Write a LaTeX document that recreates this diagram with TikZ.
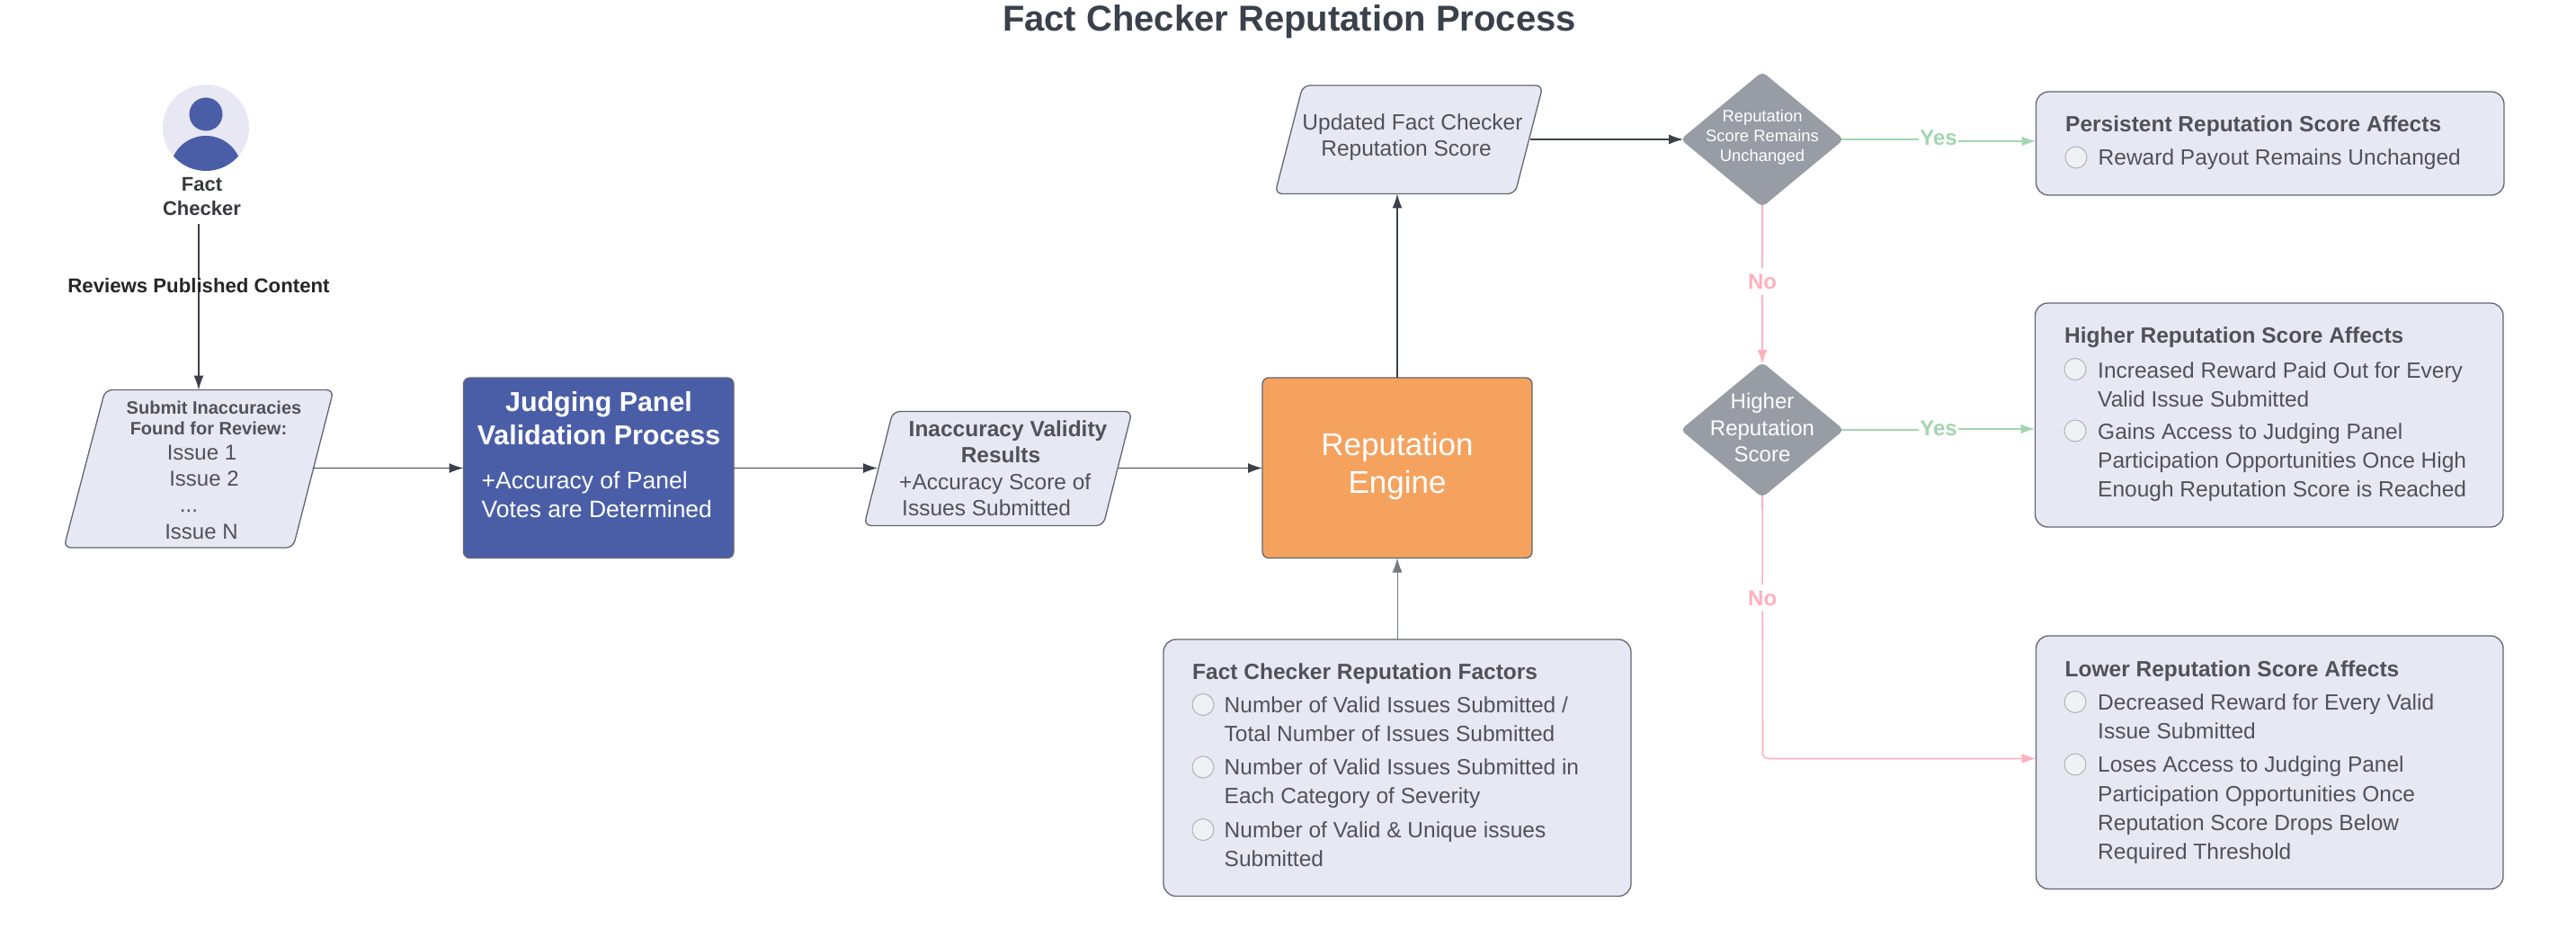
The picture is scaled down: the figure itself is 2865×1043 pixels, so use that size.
\documentclass[tikz,border=0pt]{standalone}
\usepackage{fontspec}
\setmainfont{Liberation Sans}
\usetikzlibrary{arrows.meta,calc}
\definecolor{lav}{HTML}{E8E8F4}
\definecolor{edge}{HTML}{3A414A}
\definecolor{inktext}{HTML}{4F5259}
\definecolor{panel}{HTML}{4A5EA8}
\definecolor{engine}{HTML}{F5A25F}
\definecolor{gatecol}{HTML}{979CA5}
\definecolor{pinkc}{HTML}{FFB0BD}
\definecolor{greenc}{HTML}{A3D5B1}
\definecolor{titlecol}{HTML}{3A414B}
\definecolor{bulfill}{HTML}{F0F1F5}
\newcommand{\fs}[2]{\fontsize{#1}{#2}\selectfont}
\tikzset{
  x=1pt,y=-1pt,
  sz/.style={inner sep=0pt,font=\fs{#1}{#1},text height=0.72*#1 pt,text depth=0pt},
  szb/.style={inner sep=0pt,font=\fs{#1}{#1}\bfseries,text height=0.72*#1 pt,text depth=0pt},
  shapeedge/.style={draw=edge!80,line width=1.3pt,rounded corners=8pt},
  para/.style={shapeedge,fill=lav},
  card/.style={shapeedge,fill=lav,rounded corners=14pt},
  gate/.style={fill=gatecol,draw=gatecol,line width=1pt,rounded corners=5pt},
  txt/.style={sz=24.5,text=inktext},
  ltxt/.style={sz=24.5,text=inktext,anchor=west},
  htxt/.style={szb=24.5,text=inktext,anchor=west},
  bul/.style={circle,draw=gray!60,fill=bulfill,line width=1pt,minimum size=24pt,inner sep=0pt},
  conn/.style={draw=edge,line width=1.2pt,-{Latex[length=16pt,width=11pt]}},
  pinkconn/.style={draw=pinkc,line width=2pt,-{Latex[length=16pt,width=11pt]}},
  greenconn/.style={draw=greenc,line width=2pt,-{Latex[length=16pt,width=11pt]}},
  lab/.style={szb=24,fill=white,outer sep=0pt,inner xsep=1pt,inner ysep=6pt}
}
\begin{document}
\begin{tikzpicture}
\useasboundingbox (0,0) rectangle (2865,1043);
\node[szb=40,text=titlecol] (title) at (1434,20) {Fact Checker Reputation Process};

% actor
\fill[lav] (229,142) circle (48);
\begin{scope}
\clip (229,142) circle (48);
\fill[panel] (229,191) circle (40);
\end{scope}
\fill[panel] (229,127) circle (18.5);
\node[szb=22,text=inktext!70!black] (actor1) at (224.5,205) {Fact};
\node[szb=22,text=inktext!70!black] (actor2) at (224.5,231.5) {Checker};
\coordinate (aBot) at (221,249);

% input parallelogram
\coordinate (aTL) at (117,433.5);\coordinate (aTR) at (371,433.5);\coordinate (aBR) at (326,609);\coordinate (aBL) at (71,609);
\draw[para] (aTL)--(aTR)--(aBR)--(aBL)--cycle;
\node[szb=20,text=inktext] (sub1) at (238,453.5) {Submit Inaccuracies};
\node[szb=20,text=inktext] (sub2) at (232,476.5) {Found for Review:};
\node[sz=24,text=inktext] (i1) at (224.5,503) {Issue 1};
\node[sz=24,text=inktext] (i2) at (227,532) {Issue 2};
\node[sz=24,text=inktext] (i3) at (210,561) {...};
\node[sz=24,text=inktext] (i4) at (224,591) {Issue N};
\coordinate (aTop) at (221,433.5);
\coordinate (aRight) at (348,520.5);

% judging
\path[draw=edge!80,fill=panel,line width=1.3pt,rounded corners=7pt] (515.5,420) rectangle (816,620.5);
\coordinate (jL) at (515.5,520.5);\coordinate (jR) at (816,520.5);
\node[szb=30.4,text=white] (j1) at (666,446.5) {Judging Panel};
\node[szb=30.4,text=white] (j2) at (666,483.5) {Validation Process};
\node[sz=26.5,text=white,anchor=west] (j3) at (535.5,533.5) {+Accuracy of Panel};
\node[sz=26.5,text=white,anchor=west] (j4) at (535.5,565.5) {Votes are Determined};

% validity parallelogram
\coordinate (vTL) at (993,457.5);\coordinate (vTR) at (1259,457.5);\coordinate (vBR) at (1227,584.5);\coordinate (vBL) at (961,584.5);
\draw[para] (vTL)--(vTR)--(vBR)--(vBL)--cycle;
\coordinate (vL) at (976,520.5);\coordinate (vR) at (1244,520.5);
\node[htxt,anchor=center] (v1) at (1121,477) {Inaccuracy Validity};
\node[htxt,anchor=center] (v2) at (1113,505.5) {Results};
\node[ltxt] (v3) at (1000,536) {+Accuracy Score of};
\node[ltxt] (v4) at (1003,565) {Issues Submitted};

% engine
\path[draw=edge!80,fill=engine,line width=1.3pt,rounded corners=7pt] (1404,420) rectangle (1704,620.5);
\coordinate (eL) at (1404,520.5);\coordinate (eT) at (1554,420);\coordinate (eB) at (1554,620.5);
\node[sz=35,text=white] (e1) at (1554,493.5) {Reputation};
\node[sz=35,text=white] (e2) at (1554,535.5) {Engine};

% updated parallelogram
\coordinate (uTL) at (1449,95);\coordinate (uTR) at (1716,95);\coordinate (uBR) at (1685,215.5);\coordinate (uBL) at (1418,215.5);
\draw[para] (uTL)--(uTR)--(uBR)--(uBL)--cycle;
\coordinate (uB) at (1554,215.5);\coordinate (uR) at (1702,155);
\node[txt] (u1) at (1571,135.5) {Updated Fact Checker};
\node[txt] (u2) at (1564,165) {Reputation Score};

% diamonds
\draw[gate] (1960,80.5)--(2050,155)--(1960,229.5)--(1870,155)--cycle;
\coordinate (d1L) at (1872,155);\coordinate (d1R) at (2048,155);\coordinate (d1B) at (1960,228);
\node[sz=18.4,text=white] (d1a) at (1960,129) {Reputation};
\node[sz=18.4,text=white] (d1b) at (1960,151) {Score Remains};
\node[sz=18.4,text=white] (d1c) at (1960,173) {Unchanged};
\draw[gate] (1960,403.5)--(2050,478)--(1960,552.5)--(1870,478)--cycle;
\coordinate (d2L) at (1872,478);\coordinate (d2R) at (2048,478);\coordinate (d2T) at (1960,405);\coordinate (d2B) at (1960,551);
\node[sz=24,text=white] (d2a) at (1960,446) {Higher};
\node[sz=24,text=white] (d2b) at (1960,475.5) {Reputation};
\node[sz=24,text=white] (d2c) at (1960,505) {Score};

% persistent card
\draw[card] (2264.5,102) rectangle (2785,217);
\coordinate (c1L) at (2264.5,157);
\node[htxt] (c1h) at (2297,137.5) {Persistent Reputation Score Affects};
\node[bul] (c1b) at (2309,175) {};
\node[ltxt] (c1t) at (2333.5,175) {Reward Payout Remains Unchanged};

% higher card
\draw[card] (2263.5,337) rectangle (2784,586);
\coordinate (c2L) at (2263.5,477);
\node[htxt] (c2h) at (2296,373) {Higher Reputation Score Affects};
\node[bul] (c2b1) at (2308,410.5) {};
\node[ltxt] (c2t1) at (2333,411.5) {Increased Reward Paid Out for Every};
\node[ltxt] (c2t2) at (2333,443.5) {Valid Issue Submitted};
\node[bul] (c2b2) at (2308,479) {};
\node[ltxt] (c2t3) at (2333,480) {Gains Access to Judging Panel};
\node[ltxt] (c2t4) at (2333,512) {Participation Opportunities Once High};
\node[ltxt] (c2t5) at (2333,544) {Enough Reputation Score is Reached};

% lower card
\draw[card] (2264.5,707) rectangle (2784,988.5);
\coordinate (c3L) at (2264.5,843.5);
\node[htxt] (c3h) at (2296.5,743.5) {Lower Reputation Score Affects};
\node[bul] (c3b1) at (2308,780.5) {};
\node[ltxt] (c3t1) at (2333,781) {Decreased Reward for Every Valid};
\node[ltxt] (c3t2) at (2333,813) {Issue Submitted};
\node[bul] (c3b2) at (2308,850) {};
\node[ltxt] (c3t3) at (2333,850) {Loses Access to Judging Panel};
\node[ltxt] (c3t4) at (2333,882.5) {Participation Opportunities Once};
\node[ltxt] (c3t5) at (2333,915) {Reputation Score Drops Below};
\node[ltxt] (c3t6) at (2333,947) {Required Threshold};

% factors card
\draw[card] (1294,711) rectangle (1814,996.5);
\coordinate (fT) at (1554,711);
\node[htxt] (fh) at (1326,746.5) {Fact Checker Reputation Factors};
\node[bul] (fb1) at (1338,783.5) {};
\node[ltxt] (ft1) at (1361.5,783.5) {Number of Valid Issues Submitted /};
\node[ltxt] (ft2) at (1361.5,815.5) {Total Number of Issues Submitted};
\node[bul] (fb2) at (1338,853) {};
\node[ltxt] (ft3) at (1361.5,852.5) {Number of Valid Issues Submitted in};
\node[ltxt] (ft4) at (1361.5,885) {Each Category of Severity};
\node[bul] (fb3) at (1338,922.5) {};
\node[ltxt] (ft5) at (1361.5,922.5) {Number of Valid \& Unique issues};
\node[ltxt] (ft6) at (1361.5,954.5) {Submitted};

% connectors
\draw[conn] (aBot) -- node[lab,szb=22.2,text=black!85,pos=0.37] (rev) {Reviews Published Content} (aTop);
\draw[conn] (aRight) -- (jL);
\draw[conn] (jR) -- (vL);
\draw[conn] (vR) -- (eL);
\draw[conn,draw=edge!70,line width=1pt] (fT) -- (eB);
\draw[conn] (eT) -- (uB);
\draw[conn] (uR) -- (d1L);
\node[lab,text=greenc] (y1) at (2156,153) {Yes};
\node[lab,text=greenc] (y2) at (2156,475.5) {Yes};
\draw[greenconn,-] (d1R) -- (d1R -| y1.west);
\draw[greenconn] (c1L -| y1.east) -- (c1L);
\draw[greenconn,-] (d2R) -- (d2R -| y2.west);
\draw[greenconn] (c2L -| y2.east) -- (c2L);
\draw[pinkconn] (d1B) -- node[lab,text=pinkc,pos=0.48] (n1) {No} (d2T);
\coordinate (lowbend) at (1960.5,843.5);
\draw[pinkconn,line width=1.6pt,rounded corners=6pt] (d2B) -- node[lab,text=pinkc,pos=0.39] (n2) {No} (lowbend) -- (c3L);
\end{tikzpicture}
\end{document}
